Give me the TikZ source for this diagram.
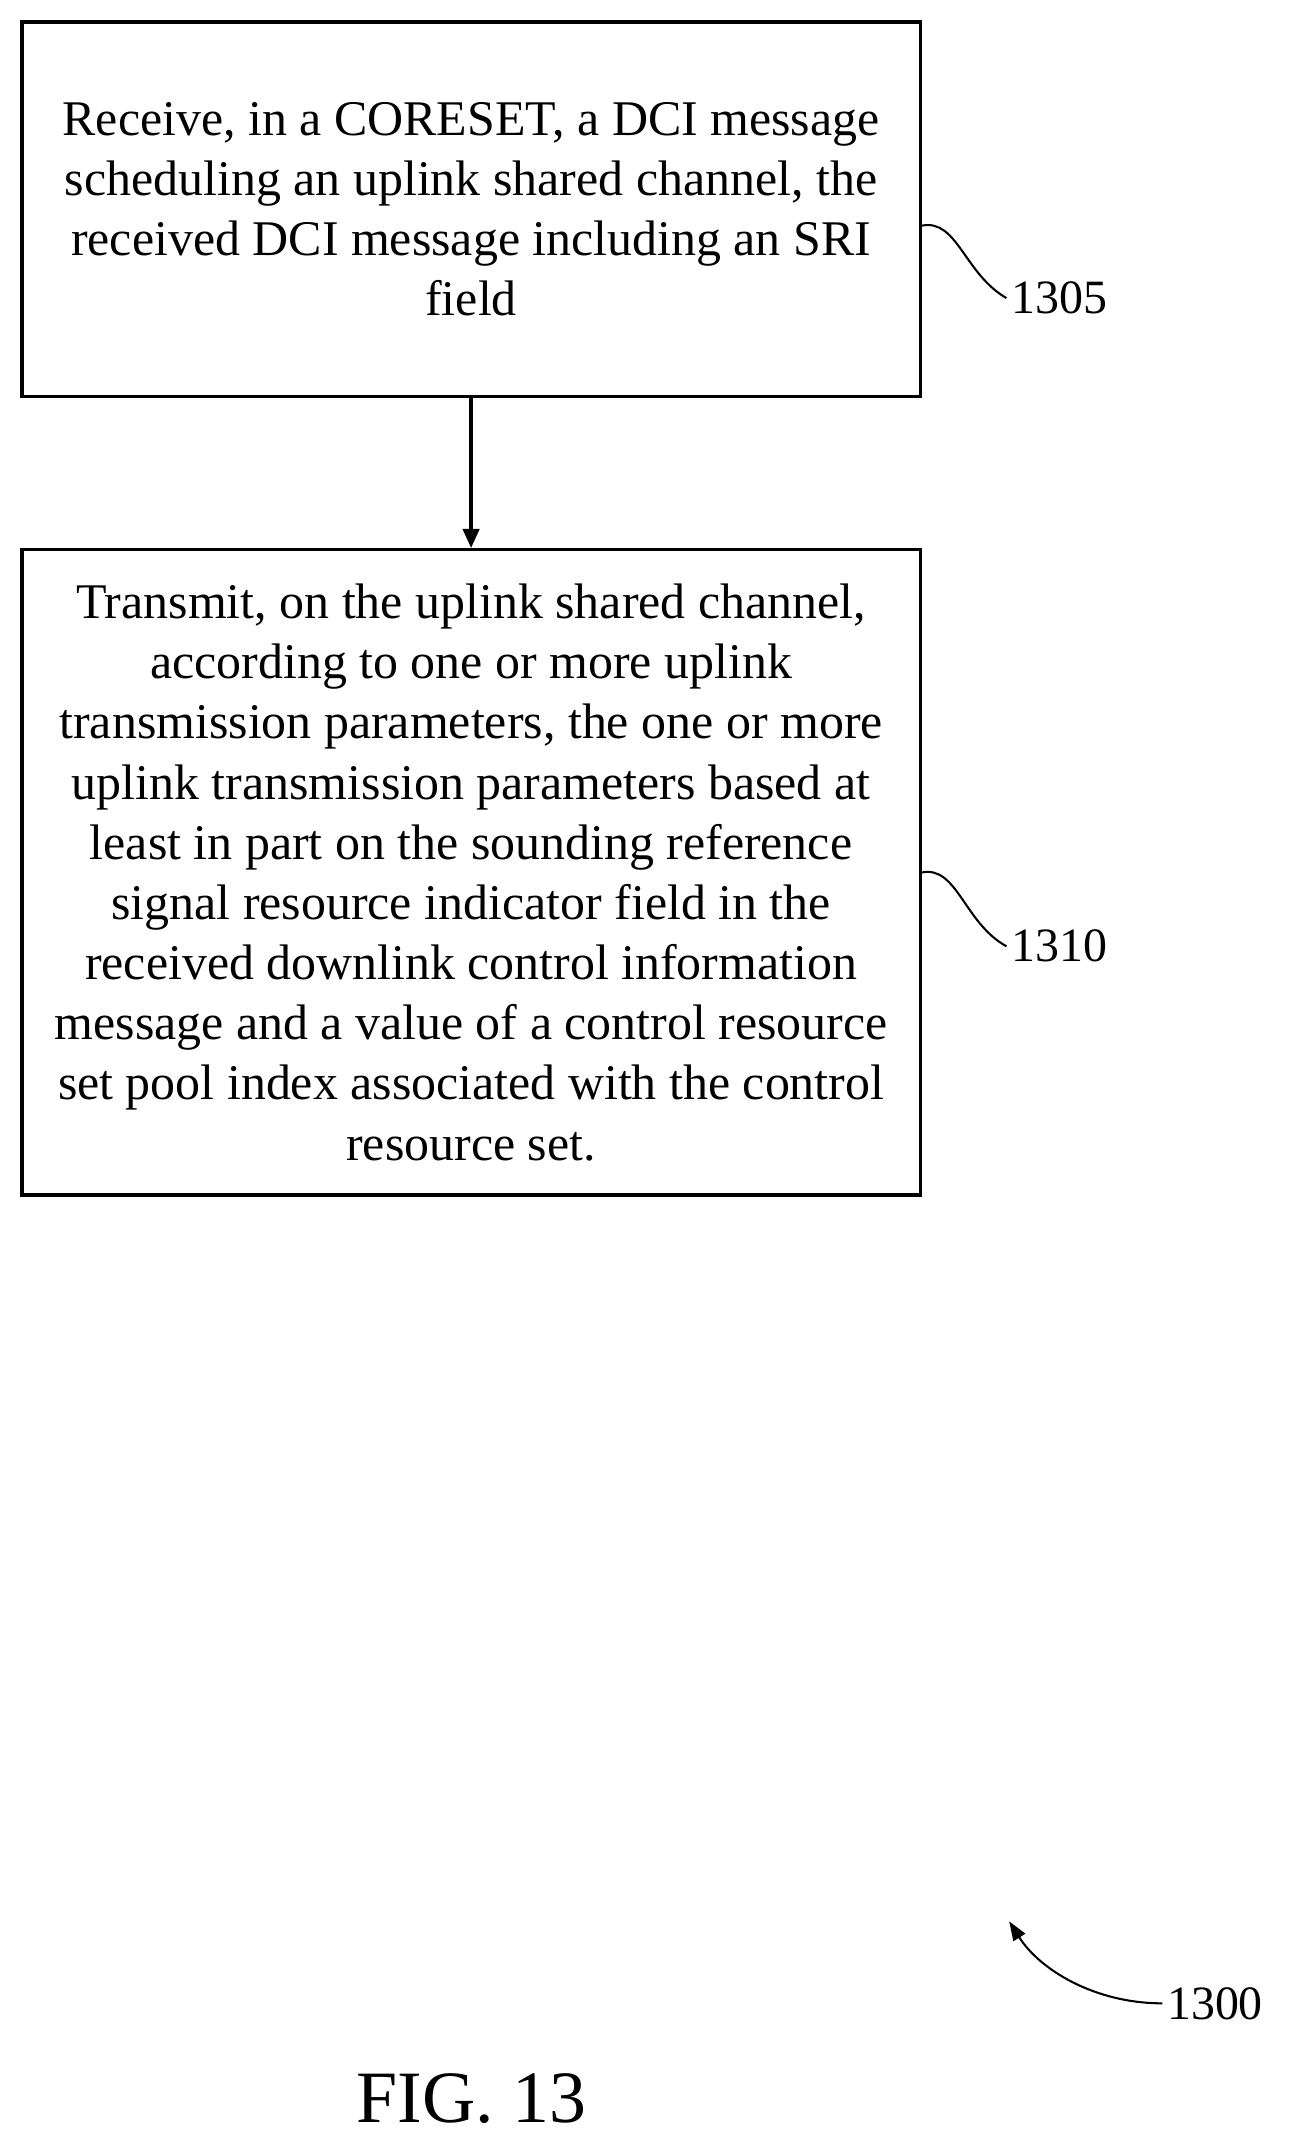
\documentclass[tikz,border=0pt]{standalone}
\usepackage{fontspec}
\setmainfont{Liberation Serif}
\usetikzlibrary{arrows.meta}
\begin{document}
\begin{tikzpicture}[x=1pt,y=-1pt,
  boxstyle/.style={draw,line width=2.5pt,minimum width=657pt,align=center,font=\fontsize{36.5}{44}\selectfont,inner sep=0pt},
  lbl/.style={font=\fontsize{35}{40}\selectfont,anchor=west},
  squig/.style={line width=1.5pt}]
\useasboundingbox (0,0) rectangle (960,1573);
\node[boxstyle,minimum height=274pt] (b1) at (344.5,153) {Receive, in a CORESET, a DCI message\\scheduling an uplink shared channel, the\\received DCI message including an SRI\\field};
\node[boxstyle,minimum height=472pt] (b2) at (344.5,638) {Transmit, on the uplink shared channel,\\according to one or more uplink\\transmission parameters, the one or more\\uplink transmission parameters based at\\least in part on the sounding reference\\signal resource indicator field in the\\received downlink control information\\message and a value of a control resource\\set pool index associated with the control\\resource set.};
\draw[line width=2.5pt,-{Triangle[length=14pt,width=12pt]}] (b1.south) -- (b2.north);
\node[lbl] (l1) at (736,218) {1305};
\node[lbl] (l2) at (736,692) {1310};
\node[lbl] (l3) at (850,1465) {1300};
\draw[squig] (b1.east |- 0,165) .. controls (700,160) and (705,200) .. (l1.west);
\draw[squig] (b2.east |- 0,638) .. controls (700,633) and (705,675) .. (l2.west);
\draw[squig,-{Triangle[length=14pt,width=10pt]}] (l3.west) .. controls (800,1465) and (760,1440) .. (738,1405);
\node[font=\fontsize{54}{58}\selectfont] (fig) at (345,1535) {FIG. 13};
\end{tikzpicture}
\end{document}
